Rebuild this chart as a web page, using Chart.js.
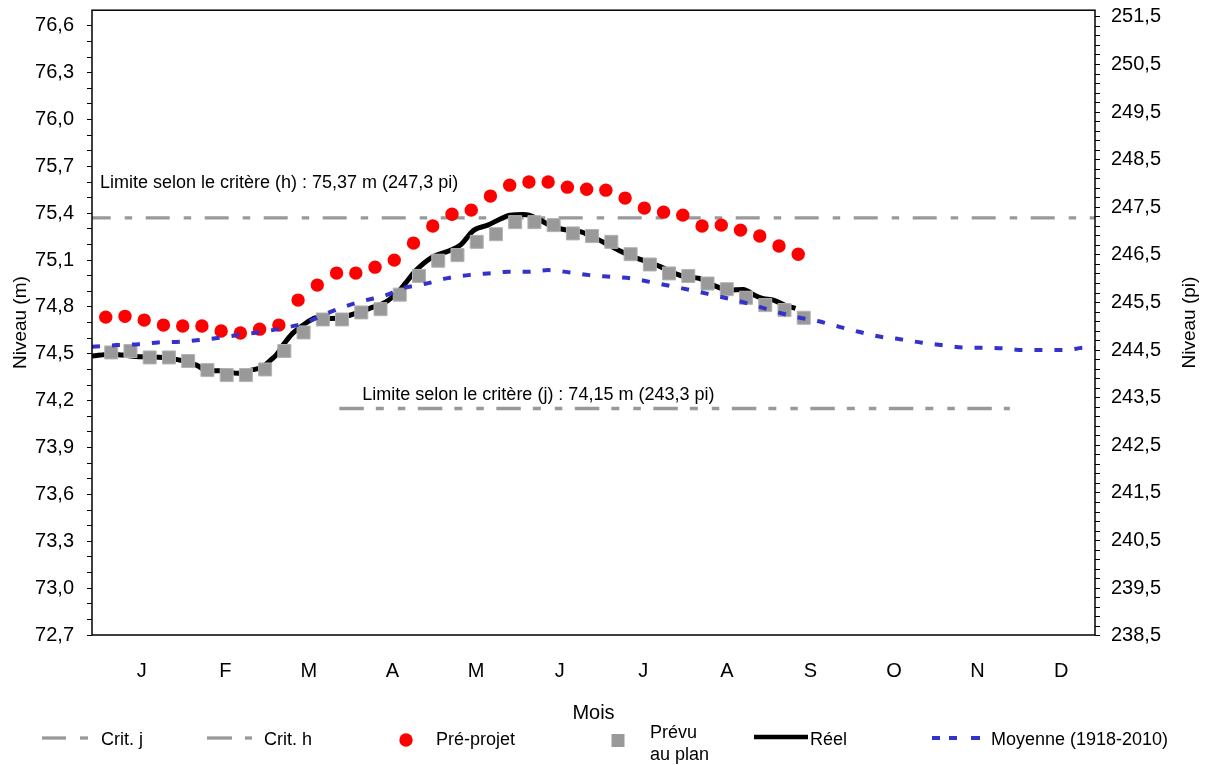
<!DOCTYPE html>
<html lang="fr">
<head>
<meta charset="utf-8">
<script src="https://cdn.jsdelivr.net/npm/chart.js@4.4.1/dist/chart.umd.min.js"></script>
<style>html,body{margin:0;padding:0;background:#fff;}canvas{display:block;}</style>
</head>
<body>
<canvas id="c" width="1205" height="765"></canvas>
<script>
// ---- Données ----
const mois = ['J','F','M','A','M','J','J','A','S','O','N','D'];
const ticksM = ['72,7','73,0','73,3','73,6','73,9','74,2','74,5','74,8','75,1','75,4','75,7','76,0','76,3','76,6'];
const ticksPi = ['238,5','239,5','240,5','241,5','242,5','243,5','244,5','245,5','246,5','247,5','248,5','249,5','250,5','251,5'];

const joursPreProjet = [5,12,19,26,33,40,47,54,61,68,75,82,89,96,103,110,117,124,131,138,145,152,159,166,173,180,187,194,201,208,215,222,229,236,243,250,257];
const preProjet = [74.735,74.74,74.716,74.684,74.678,74.678,74.646,74.633,74.658,74.684,74.844,74.94,75.017,75.017,75.055,75.10,75.209,75.318,75.394,75.42,75.51,75.58,75.60,75.60,75.567,75.554,75.548,75.497,75.433,75.407,75.388,75.318,75.324,75.292,75.254,75.19,75.138];

const joursPrevu = [7,14,21,28,35,42,49,56,63,70,77,84,91,98,105,112,119,126,133,140,147,154,161,168,175,182,189,196,203,210,217,224,231,238,245,252,259];
const prevu = [74.509,74.518,74.477,74.477,74.454,74.396,74.364,74.364,74.40,74.518,74.637,74.72,74.72,74.765,74.786,74.879,74.999,75.096,75.132,75.217,75.266,75.343,75.343,75.324,75.271,75.254,75.217,75.138,75.072,75.015,74.998,74.95,74.914,74.859,74.812,74.78,74.731];

const joursReel = [0,7,11,18,26,32,38,42,48,53,58,62,65,67,70,73,78,82,87,91,96,102,107,112,114,118,124,130,134,139,144,149,152,157,159,163,168,173,178,182,187,192,197,202,207,212,216,221,226,232,237,241,244,248,252,256];
const reel = [74.486,74.498,74.492,74.481,74.477,74.46,74.428,74.392,74.392,74.375,74.396,74.415,74.46,74.492,74.567,74.631,74.699,74.733,74.727,74.733,74.759,74.797,74.833,74.908,74.951,75.036,75.121,75.16,75.196,75.292,75.324,75.367,75.388,75.392,75.388,75.356,75.313,75.292,75.281,75.249,75.207,75.16,75.121,75.089,75.057,75.015,74.993,74.983,74.94,74.908,74.912,74.876,74.855,74.844,74.812,74.791];

const joursMoyenne = [0,9,17,24,32,39,47,55,62,69,77,84,91,99,107,113,122,129,137,144,152,159,166,174,181,189,196,204,212,219,226,234,242,249,256,264,272,279,287,294,302,309,317,324,332,339,347,354,361,365];
const moyenne = [74.545,74.556,74.562,74.573,74.577,74.588,74.605,74.625,74.641,74.663,74.695,74.748,74.797,74.84,74.876,74.919,74.951,74.983,75.004,75.015,75.025,75.025,75.036,75.021,75.004,74.993,74.983,74.957,74.929,74.904,74.876,74.844,74.806,74.769,74.737,74.71,74.673,74.641,74.609,74.594,74.571,74.556,74.541,74.539,74.535,74.524,74.524,74.524,74.539,74.54];

const critJ = 74.15;
const critJJours = [90, 334];
const critH = 75.37;
const critHJours = [0, 365];

const yMin = 72.7, yMax = 76.7;
const PI_PAR_M = 3.28084;
const JOURS_AN = 365;

// ---- Construction ----
const FONT = "'Liberation Sans', Arial, Helvetica, sans-serif";
Chart.defaults.font.family = FONT;
Chart.defaults.color = '#000';

const pts = (xs, ys) => xs.map((x, i) => ({x: x, y: ys[i]}));
function construireTicks(labels, n) {
  const maj = labels.map(s => parseFloat(s.replace(',', '.')));
  const out = [];
  for (let i = 0; i < maj.length; i++) {
    out.push({value: maj[i], lbl: labels[i]});
    if (i < maj.length - 1) {
      for (let j = 1; j < n; j++) out.push({value: maj[i] + (maj[i+1] - maj[i]) * j / n, lbl: ''});
    }
  }
  return out;
}
function sansPadding(s) { s.paddingTop = 0; s.paddingBottom = 0; s.paddingLeft = 0; s.paddingRight = 0; }

const GRIS = '#999999';
const MOTIF_H = [24, 14, 7.5, 13.5];
const MOTIF_J = [24.5, 12, 8, 14, 7.5, 12.5];

const datasets = [
  {label: 'Crit. j', data: pts(critJJours, [critJ, critJ]), borderColor: GRIS, borderWidth: 3.3, borderDash: MOTIF_J, borderCapStyle: 'butt', pointRadius: 0, order: 6},
  {label: 'Crit. h', data: pts(critHJours, [critH, critH]), borderColor: GRIS, borderWidth: 3.3, borderDash: MOTIF_H, borderDashOffset: 5.3, borderCapStyle: 'butt', pointRadius: 0, order: 5},
  {label: 'Pré-projet', data: pts(joursPreProjet, preProjet), showLine: false, pointStyle: 'circle', pointRadius: 6.7, pointBackgroundColor: '#ff0000', pointBorderWidth: 0, backgroundColor: '#ff0000', borderColor: '#ff0000', order: 4},
  {label: 'Réel', data: pts(joursReel, reel), borderColor: '#000', borderWidth: 5, pointRadius: 0, cubicInterpolationMode: 'monotone', order: 3},
  {label: 'Prévu au plan', data: pts(joursPrevu, prevu), showLine: false, pointStyle: 'rect', pointRadius: 9.2, pointBackgroundColor: '#999999', pointBorderColor: '#b3b3b3', pointBorderWidth: 1, backgroundColor: '#999999', borderColor: '#999999', order: 2},
  {label: 'Moyenne (1918-2010)', data: pts(joursMoyenne, moyenne), borderColor: '#3333cc', borderWidth: 4, borderDash: [8, 12], borderCapStyle: 'butt', pointRadius: 0, cubicInterpolationMode: 'monotone', order: 1}
];

const decor = {
  id: 'decor',
  afterDraw(chart) {
    const ctx = chart.ctx;
    const a = chart.chartArea;
    const xs = chart.scales.x, ys = chart.scales.y;
    ctx.save();
    // cadre
    ctx.strokeStyle = '#000';
    ctx.lineWidth = 1.5;
    ctx.setLineDash([]);
    ctx.strokeRect(a.left, a.top, a.right - a.left, a.bottom - a.top);

    // annotations
    ctx.fillStyle = '#000';
    ctx.font = '18px ' + FONT;
    ctx.textBaseline = 'middle';
    ctx.textAlign = 'left';
    ctx.fillText('Limite selon le critère (h) : 75,37 m (247,3 pi)', a.left + 8, ys.getPixelForValue(critH) - 35);
    ctx.fillText('Limite selon le critère (j) : 74,15 m (243,3 pi)', xs.getPixelForValue(critJJours[0]) + 23, ys.getPixelForValue(critJ) - 13);

    // titre axe droit
    ctx.save();
    ctx.font = '19px ' + FONT;
    ctx.textAlign = 'center';
    ctx.translate(1190, (a.top + a.bottom) / 2);
    ctx.rotate(-Math.PI / 2);
    ctx.fillText('Niveau (pi)', 0, 0);
    ctx.restore();

    // légende
    const yl = 740;
    function seg(x1, x2, y, col, w) {
      ctx.beginPath(); ctx.strokeStyle = col; ctx.lineWidth = w; ctx.lineCap = 'butt';
      ctx.moveTo(x1, y); ctx.lineTo(x2, y); ctx.stroke();
    }
    ctx.font = '18px ' + FONT;
    ctx.textAlign = 'left';
    ctx.textBaseline = 'middle';
    // Crit. j
    seg(42, 66, yl - 2, GRIS, 3.3); seg(80, 88, yl - 2, GRIS, 3.3);
    ctx.fillText('Crit. j', 101, yl);
    // Crit. h
    seg(207, 232, yl - 2, GRIS, 3.3); seg(245, 252, yl - 2, GRIS, 3.3);
    ctx.fillText('Crit. h', 264, yl);
    // Pré-projet
    ctx.beginPath(); ctx.fillStyle = '#ff0000'; ctx.arc(406, yl, 6.7, 0, Math.PI * 2); ctx.fill();
    ctx.fillStyle = '#000';
    ctx.fillText('Pré-projet', 436, yl);
    // Prévu au plan
    ctx.fillStyle = '#999999'; ctx.fillRect(611.5, yl - 6, 13, 13);
    ctx.fillStyle = '#000';
    ctx.fillText('Prévu', 650, yl - 7);
    ctx.fillText('au plan', 650, yl + 15);
    // Réel
    seg(754, 808, yl - 3, '#000', 4.5);
    ctx.fillText('Réel', 810, yl);
    // Moyenne
    seg(932, 940, yl - 2, '#3333cc', 4); seg(949, 957, yl - 2, '#3333cc', 4); seg(971, 980, yl - 2, '#3333cc', 4);
    ctx.fillText('Moyenne (1918-2010)', 991, yl);
    ctx.restore();
  }
};

const gridTicks = {drawOnChartArea: false, drawTicks: true, tickLength: 5, color: '#000', lineWidth: 1};

new Chart(document.getElementById('c'), {
  type: 'line',
  data: {datasets: datasets},
  options: {
    responsive: false,
    devicePixelRatio: 1,
    animation: false,
    layout: {padding: {top: 10, left: 0, right: 0, bottom: 0}},
    plugins: {legend: {display: false}, tooltip: {enabled: false}},
    scales: {
      x: {
        type: 'linear', position: 'bottom', min: 0, max: JOURS_AN,
        grid: {display: false}, border: {display: false},
        ticks: {font: {size: 20, lineHeight: 1}, padding: 18, autoSkip: false, maxRotation: 0,
                callback: (v, i) => mois[i]},
        afterBuildTicks: s => { s.ticks = mois.map((m, i) => ({value: (i + 0.5) * JOURS_AN / 12 + 2.9})); },
        afterFit: s => { s.height = 130; sansPadding(s); },
        title: {display: true, text: 'Mois', font: {size: 20}, padding: {top: 0, bottom: 40}}
      },
      y: {
        type: 'linear', position: 'left', min: yMin, max: yMax, display: true,
        grid: gridTicks, border: {display: false},
        ticks: {font: {size: 20, lineHeight: 1}, padding: 13, autoSkip: false,
                callback: (v, i, t) => (t[i] && t[i].lbl) || ''},
        afterBuildTicks: s => { s.ticks = construireTicks(ticksM, 3); },
        afterFit: s => { s.width = 92; sansPadding(s); },
        title: {display: true, text: 'Niveau (m)', font: {size: 19}, padding: {top: 9, bottom: 0}}
      },
      y1: {
        type: 'linear', position: 'right', min: yMin * PI_PAR_M, max: yMax * PI_PAR_M, display: true,
        grid: gridTicks, border: {display: false},
        ticks: {font: {size: 20, lineHeight: 1}, padding: 11, autoSkip: false,
                callback: (v, i, t) => (t[i] && t[i].lbl) || ''},
        afterBuildTicks: s => { s.ticks = construireTicks(ticksPi, 5); },
        afterFit: s => { s.width = 110; sansPadding(s); }
      }
    }
  },
  plugins: [decor]
});
</script>
</body>
</html>
